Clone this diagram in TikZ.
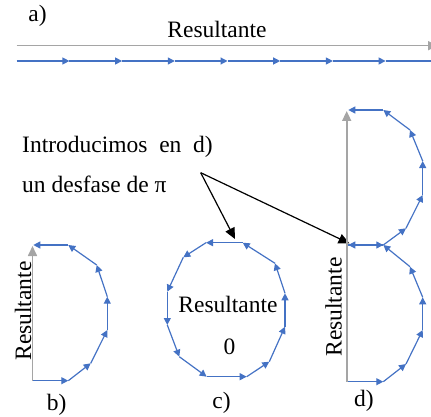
\documentclass[tikz,border=0pt]{standalone}
\usepackage{fontspec}
\setmainfont{Liberation Serif}
\usetikzlibrary{arrows.meta}
\definecolor{vblue}{RGB}{68,114,196}
\definecolor{rgray}{RGB}{165,165,165}
\begin{document}
\begin{tikzpicture}[x=1pt,y=-1pt,
  vec/.style={draw=vblue, line width=1.2pt, -{Triangle[length=7pt,width=7pt]}},
  res/.style={draw=rgray, line width=1.6pt, -{Triangle[length=10pt,width=9pt]}},
  lbl/.style={font=\fontsize{23.5}{28}\selectfont, inner sep=0pt},
  ptr/.style={draw=black, line width=1.2pt, -{Triangle[length=11pt,width=10pt]}}]
\useasboundingbox (0,0) rectangle (431,417);
\clip (0,0) rectangle (431,417);

% ---------- a)
\node[lbl, anchor=base] (la) at (37.5,22) {a)};
\node[lbl, anchor=base] (ra) at (217,38) {Resultante};
\coordinate (ga0) at (16.7,45.7);
\coordinate (ga1) at (438,45.7);
\draw[res] (ga0) -- (ga1);
\foreach \k in {0,...,8} {\coordinate (a\k) at ({16.7+52.7*\k},61);}
\foreach \k [evaluate=\k as \n using int(\k+1)] in {0,...,7} {\draw[vec] (a\k) -- (a\n);}

% ---------- text and pointers
\node[lbl, anchor=base west] (t1) at (22,153) {Introducimos\ \ en\ \ d)};
\node[lbl, anchor=base west] (t2) at (22,193) {un desfase de π};
\coordinate (p) at (200.7,172.7);
\coordinate (pc) at (235,239);
\coordinate (pd) at (349.5,243.5);
\draw[ptr] (p) -- (pc);
\draw[ptr] (p) -- (pd);

% ---------- b)
\coordinate (b0) at (33.3,380.7);
\coordinate (b1) at (68.3,380.7);
\coordinate (b2) at (90.7,363.3);
\coordinate (b3) at (107.3,330);
\coordinate (b4) at (107.3,296.7);
\coordinate (b5) at (96.7,265);
\coordinate (b6) at (68.3,245);
\coordinate (b7) at (33.3,245);
\coordinate (gb0) at (32.5,380.7);
\coordinate (gb1) at (32.5,246);
\draw[res] (gb0) -- (gb1);
\foreach \k [evaluate=\k as \n using int(\k+1)] in {0,...,6} {\draw[vec] (b\k) -- (b\n);}
\node[lbl, rotate=90, anchor=base] (rb) at (31,311) {Resultante};
\node[lbl, anchor=base] (lb) at (56.7,410) {b)};

% ---------- c)
\coordinate (c0) at (206.7,376.7);
\coordinate (c1) at (246.7,376.7);
\coordinate (c2) at (269.3,361.7);
\coordinate (c3) at (285,326.7);
\coordinate (c4) at (285,293.3);
\coordinate (c5) at (275,263.3);
\coordinate (c6) at (242.7,242.7);
\coordinate (c7) at (206,242.7);
\coordinate (c8) at (183.3,257.3);
\coordinate (c9) at (167.3,291.7);
\coordinate (c10) at (167.3,325);
\coordinate (c11) at (179.3,356.7);
\coordinate (c12) at (206.7,376.7);
\foreach \k [evaluate=\k as \n using int(\k+1)] in {0,...,11} {\draw[vec] (c\k) -- (c\n);}
\node[lbl, anchor=base] (rc) at (228,312.7) {Resultante};
\node[lbl, anchor=base] (zc) at (229.5,354) {0};
\node[lbl, anchor=base] (lc) at (221.5,408) {c)};

% ---------- d)
\coordinate (gd0) at (346.7,381.7);
\coordinate (gd1) at (346.7,111);
\draw[res] (gd0) -- (gd1);
\coordinate (d0) at (348.3,381.7);
\coordinate (d1) at (383.3,381.7);
\coordinate (d2) at (406,364);
\coordinate (d3) at (422.7,330);
\coordinate (d4) at (422.7,297.3);
\coordinate (d5) at (410,266.7);
\coordinate (d6) at (383.3,245);
\coordinate (d7) at (348.3,245);
\coordinate (d8) at (383.3,245);
\coordinate (d9) at (406,228.3);
\coordinate (d10) at (422.7,195);
\coordinate (d11) at (422.7,161);
\coordinate (d12) at (410,130);
\coordinate (d13) at (383.3,110);
\coordinate (d14) at (348.3,110);
\foreach \k [evaluate=\k as \n using int(\k+1)] in {0,...,13} {\draw[vec] (d\k) -- (d\n);}
\node[lbl, rotate=90, anchor=base] (rd) at (341.5,307) {Resultante};
\node[lbl, anchor=base] (ld) at (364,406.7) {d)};
\end{tikzpicture}
\end{document}
